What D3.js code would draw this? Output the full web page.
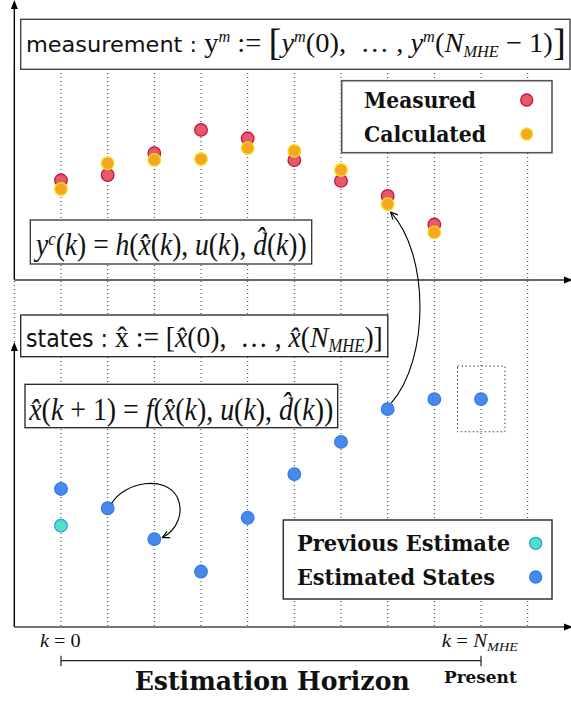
<!DOCTYPE html>
<meta charset="utf-8">
<html>
<head>
<script src="https://cdn.jsdelivr.net/npm/d3@7"></script>
<style>
body { margin: 0; background: white; }
text { white-space: pre; }
</style>
</head>
<body>
<script>
// ---- data ---------------------------------------------------------------
var gridK      = [-1, 0, 1, 2, 3, 4, 5, 6, 7, 8, 9, 10];
var measK      = [0, 1, 2, 3, 4, 5, 6, 7, 8];
var measured   = [3.56, 3.75, 4.53, 5.36, 5.06, 4.28, 3.54, 3.00, 1.98];
var calculated = [3.25, 4.17, 4.29, 4.32, 4.71, 4.61, 3.93, 2.71, 1.70];
var stateK     = [0, 1, 2, 3, 4, 5, 6, 7, 8, 9];
var estimated  = [4.93, 4.24, 3.14, 1.98, 3.90, 5.46, 6.61, 7.78, 8.14, 8.14];
var previousK  = [0];
var previous   = [3.62];
var presentK   = 9;
var topLegend  = ["Measured", "Calculated"];
var botLegend  = ["Previous Estimate", "Estimated States"];

var colors = {
  meas:  { fill: "#e45a6d", stroke: "#d0103a" },
  calc:  { fill: "#f5a623", stroke: "#f6df1c" },
  est:   { fill: "#4a8ae6", stroke: "#2b7cf5" },
  prev:  { fill: "#4fe3c1", stroke: "#3197ef" }
};

var W = 571, H = 702;
var svg = d3.select("body").append("svg")
  .attr("width", W)
  .attr("height", H);

var x    = d3.scaleLinear().domain([-1, 10]).range([14.33, 527.67]);
var yTop = d3.scaleLinear().domain([0, 10]).range([280, 0]);
var yBot = d3.scaleLinear().domain([0, 10]).range([627, 347]);

var defs = svg.append("defs");
defs.append("marker")
  .attr("id", "vee")
  .attr("viewBox", "-9 -5 10 10")
  .attr("refX", 0).attr("refY", 0)
  .attr("markerWidth", 10).attr("markerHeight", 10)
  .attr("markerUnits", "userSpaceOnUse")
  .attr("orient", "auto")
  .append("path")
  .attr("d", "M-7,-3.5 L0,0 L-7,3.5")
  .attr("fill", "none")
  .attr("stroke", "black")
  .attr("stroke-width", 1.1);

// ---- dotted grid ---------------------------------------------------------
svg.selectAll(".grid")
  .data(gridK)
  .enter().append("line")
  .attr("class", "grid")
  .attr("x1", function(d) { return x(d); })
  .attr("x2", function(d) { return x(d); })
  .attr("y1", 69)
  .attr("y2", yBot(0))
  .attr("stroke", "#333")
  .attr("stroke-width", 1)
  .attr("stroke-dasharray", "1,3");

// ---- axes ----------------------------------------------------------------
function arrowHead(tx, ty, dir, col) {
  var p;
  if (dir == "up")    p = [[tx, ty], [tx - 3.5, ty + 9], [tx + 3.5, ty + 9]];
  else                p = [[tx, ty], [tx - 9, ty - 3.5], [tx - 9, ty + 3.5]];
  svg.append("path")
    .attr("d", "M" + p.join("L") + "Z")
    .attr("fill", col);
}
// top panel
svg.append("line").attr("x1", x(-1)).attr("x2", x(-1))
  .attr("y1", yTop(0)).attr("y2", 6)
  .attr("stroke", "black").attr("stroke-width", 1.4);
arrowHead(x(-1), 0, "up", "black");
svg.append("line").attr("x1", x(-1)).attr("x2", W - 6)
  .attr("y1", yTop(0)).attr("y2", yTop(0))
  .attr("stroke", "#666").attr("stroke-width", 2);
arrowHead(W + 2, yTop(0), "right", "black");
// bottom panel
svg.append("line").attr("x1", x(-1)).attr("x2", x(-1))
  .attr("y1", yBot(0)).attr("y2", 349)
  .attr("stroke", "black").attr("stroke-width", 1.4);
arrowHead(x(-1), 342, "up", "black");
svg.append("line").attr("x1", x(-1)).attr("x2", W - 6)
  .attr("y1", yBot(0)).attr("y2", yBot(0))
  .attr("stroke", "#444").attr("stroke-width", 1.6);
arrowHead(W + 2, yBot(0), "right", "black");

// ---- boxes ---------------------------------------------------------------
function box(x0, y0, x1, y1, stroke, sw) {
  svg.append("rect")
    .attr("x", x0).attr("y", y0)
    .attr("width", x1 - x0).attr("height", y1 - y0)
    .attr("fill", "white")
    .attr("stroke", stroke)
    .attr("stroke-width", sw);
}
box(20.7, 19.3, 570, 69.3, "#444", 1.4);     // measurement
box(30.3, 220, 311.7, 264, "#333", 1.3);     // y^c formula
box(20.7, 315, 387.8, 356.7, "#222", 1.3);   // states
box(25, 384.3, 337.7, 427.7, "#222", 1.3);   // f formula
box(341.7, 80.7, 552, 152.7, "#555", 1.6);   // legend top
box(283.3, 520, 552, 599, "#333", 1.5);      // legend bottom

// dotted box round the present state
svg.append("rect")
  .attr("x", x(presentK) - 23.5)
  .attr("y", yBot(estimated[presentK]) - 33)
  .attr("width", 47.5)
  .attr("height", 65.7)
  .attr("fill", "none")
  .attr("stroke", "#444")
  .attr("stroke-width", 1)
  .attr("stroke-dasharray", "1.5,2.5");

// ---- points --------------------------------------------------------------
function dots(ks, vals, yScale, col) {
  svg.append("g").selectAll("circle")
    .data(ks)
    .enter().append("circle")
    .attr("cx", function(d) { return x(d); })
    .attr("cy", function(d, i) { return yScale(vals[i]); })
    .attr("r", 6.3)
    .attr("fill", col.fill)
    .attr("stroke", col.stroke)
    .attr("stroke-width", 1.3);
}
dots(measK, measured, yTop, colors.meas);
dots(measK, calculated, yTop, colors.calc);
dots(stateK, estimated, yBot, colors.est);
dots(previousK, previous, yBot, colors.prev);

// ---- curved arrows -------------------------------------------------------
var ax = x(7), ay0 = yBot(estimated[7]), ay1 = yTop(calculated[7]);
svg.append("path")
  .attr("d", "M" + (ax + 3.5) + "," + (ay0 - 6) +
             " C" + (ax + 42) + "," + (ay0 - 50) + " " + (ax + 42) + "," + (ay1 + 50) +
             " " + (ax + 3) + "," + (ay1 + 8))
  .attr("fill", "none")
  .attr("stroke", "black")
  .attr("stroke-width", 1.1)
  .attr("marker-end", "url(#vee)");

var bx0 = x(1), by0 = yBot(estimated[1]), bx1 = x(2), by1 = yBot(estimated[2]);
svg.append("path")
  .attr("d", "M" + (bx0 + 4) + "," + (by0 - 5) +
             " C" + (bx0 + 17) + "," + (by0 - 26) + " " + (bx0 + 57) + "," + (by0 - 34) +
             " " + (bx1 + 23) + "," + (by0 - 11) +
             " C" + (bx1 + 30) + "," + (by0 + 4) + " " + (bx1 + 23) + "," + (by1 - 9) +
             " " + (bx1 + 8) + "," + (by1 - 1.5))
  .attr("fill", "none")
  .attr("stroke", "black")
  .attr("stroke-width", 1.1)
  .attr("marker-end", "url(#vee)");

// ---- rich text (formulas) ------------------------------------------------
var SERIF = "Liberation Serif", SANS = "DejaVu Sans";
function rich(segs, x0, base, width, size) {
  var t = svg.append("text").attr("x", 0).attr("y", 0).attr("fill", "#111");
  var shift = 0;
  segs.forEach(function(s) {
    var want = s.dy || 0;
    t.append("tspan")
      .attr("dy", want - shift)
      .attr("font-family", s.sans ? SANS : SERIF)
      .attr("font-style", s.it ? "italic" : "normal")
      .attr("font-size", s.size || size)
      .text(s.t);
    shift = want;
  });
  var bb = t.node().getBBox();
  t.attr("transform", "translate(" + x0 + "," + base + ") scale(" + (width / bb.width) +
         ",1) translate(" + (-bb.x) + ",0)");
}
var SUP = -10, SUB = 5;

rich([
  { t: "measurement : ", sans: 1, size: 22 },
  { t: "y" },
  { t: "m", it: 1, size: 16, dy: SUP },
  { t: " := " },
  { t: "[", size: 38, dy: 3 },
  { t: "y", it: 1 },
  { t: "m", it: 1, size: 16, dy: SUP },
  { t: "(0),  \u2026 , " },
  { t: "y", it: 1 },
  { t: "m", it: 1, size: 16, dy: SUP },
  { t: "(" },
  { t: "N", it: 1 },
  { t: "MHE", it: 1, size: 16, dy: SUB },
  { t: " \u2212 1)" },
  { t: "]", size: 38, dy: 3 }
], 26, 52, 540, 28);

rich([
  { t: "y", it: 1 },
  { t: "c", it: 1, size: 19, dy: SUP },
  { t: "(" }, { t: "k", it: 1 }, { t: ") = " },
  { t: "h", it: 1 }, { t: "(" },
  { t: "x\u0302", it: 1 }, { t: "(" }, { t: "k", it: 1 }, { t: "), " },
  { t: "u", it: 1 }, { t: "(" }, { t: "k", it: 1 }, { t: "), " },
  { t: "d\u0302", it: 1 }, { t: "(" }, { t: "k", it: 1 }, { t: "))" }
], 33.3, 255, 273.5, 31);

rich([
  { t: "states : ", sans: 1, size: 24 },
  { t: "x\u0302" },
  { t: " := [" },
  { t: "x\u0302", it: 1 }, { t: "(0),  \u2026 , " },
  { t: "x\u0302", it: 1 }, { t: "(" },
  { t: "N", it: 1 },
  { t: "MHE", it: 1, size: 18, dy: SUB },
  { t: ")]" }
], 26, 347, 357, 30);

rich([
  { t: "x\u0302", it: 1 }, { t: "(" }, { t: "k", it: 1 }, { t: " + 1) = " },
  { t: "f", it: 1 }, { t: "(" },
  { t: "x\u0302", it: 1 }, { t: "(" }, { t: "k", it: 1 }, { t: "), " },
  { t: "u", it: 1 }, { t: "(" }, { t: "k", it: 1 }, { t: "), " },
  { t: "d\u0302", it: 1 }, { t: "(" }, { t: "k", it: 1 }, { t: "))" }
], 28.3, 420, 305, 31);

rich([
  { t: "k", it: 1 }, { t: " = 0" }
], 40, 646.5, 40.7, 19);

rich([
  { t: "k", it: 1 }, { t: " = " }, { t: "N", it: 1 },
  { t: "MHE", it: 1, size: 13, dy: 4 }
], 441.7, 647, 76.3, 19);

// ---- legends -------------------------------------------------------------
var BOLD = "DejaVu Serif";
function label(txt, x0, base, width, size) {
  svg.append("text")
    .attr("x", x0).attr("y", base)
    .attr("font-family", BOLD)
    .attr("font-weight", "bold")
    .attr("font-size", size)
    .attr("textLength", width)
    .attr("lengthAdjust", "spacingAndGlyphs")
    .attr("fill", "#111")
    .text(txt);
}
label(topLegend[0], 364, 107.5, 112, 22);
label(topLegend[1], 364, 141.5, 122, 22);
label(botLegend[0], 297, 551, 213, 22);
label(botLegend[1], 297, 585, 198, 22);

var legDots = [
  { cx: 526.7, cy: 100, c: colors.meas },
  { cx: 526.7, cy: 134, c: colors.calc },
  { cx: 535.7, cy: 543.3, c: colors.prev },
  { cx: 535.7, cy: 577, c: colors.est }
];
svg.append("g").selectAll("circle")
  .data(legDots)
  .enter().append("circle")
  .attr("cx", function(d) { return d.cx; })
  .attr("cy", function(d) { return d.cy; })
  .attr("r", 6)
  .attr("fill", function(d) { return d.c.fill; })
  .attr("stroke", function(d) { return d.c.stroke; })
  .attr("stroke-width", 1.3);

// ---- estimation horizon --------------------------------------------------
var hy = 660.7;
svg.append("line")
  .attr("x1", x(0)).attr("x2", x(presentK))
  .attr("y1", hy).attr("y2", hy)
  .attr("stroke", "#222").attr("stroke-width", 1.2);
[0, presentK].forEach(function(k) {
  svg.append("line")
    .attr("x1", x(k)).attr("x2", x(k))
    .attr("y1", hy - 5).attr("y2", hy + 5.5)
    .attr("stroke", "#222").attr("stroke-width", 1.2);
});
label("Estimation Horizon", 134.7, 690, 275, 26);
label("Present", 444, 683.3, 72.7, 17);
</script>
</body>
</html>
